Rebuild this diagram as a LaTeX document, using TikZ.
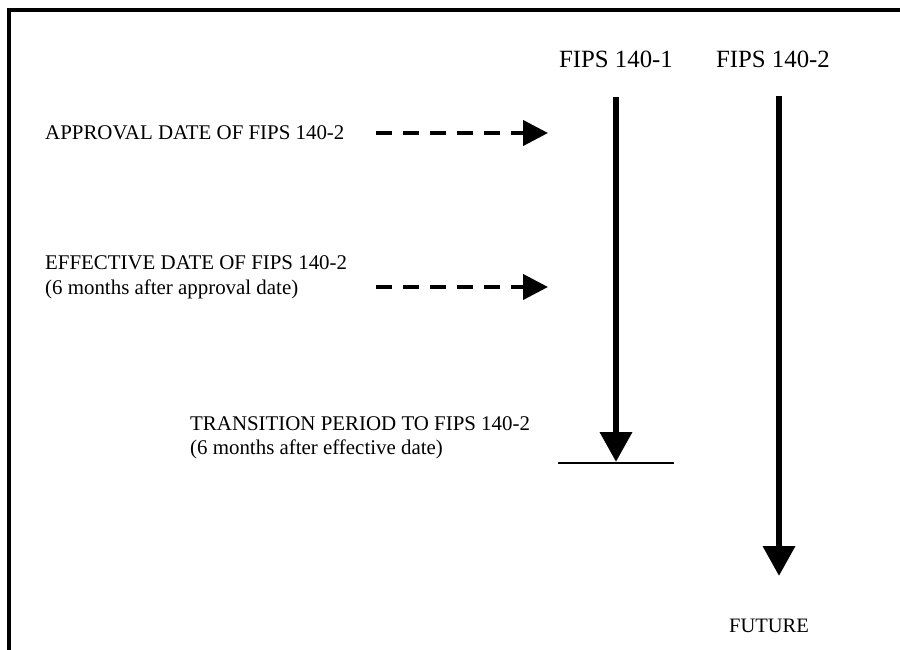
\documentclass[tikz,border=0pt]{standalone}
\usepackage{fontspec}
\setmainfont{Liberation Serif}
\usetikzlibrary{arrows.meta}
\tikzset{
  lbl/.style={inner sep=0pt, anchor=base west, font=\fontsize{20.9}{24}\selectfont},
  hdr/.style={inner sep=0pt, anchor=base, font=\fontsize{24.8}{30}\selectfont},
  futlbl/.style={inner sep=0pt, anchor=base, font=\fontsize{20.5}{24}\selectfont},
  bigarrow/.style={line width=6.7pt, -{Triangle[width=31pt,length=30pt]}},
  dasharrow/.style={line width=4.2pt, dash pattern=on 16pt off 11pt, -{Triangle[width=25pt,length=25pt]}},
  border/.style={line width=4pt, line join=miter},
}
\begin{document}
\begin{tikzpicture}[x=1pt,y=-1pt]
\useasboundingbox (0,0) rectangle (900,650);
% frame
\coordinate (tl) at (9,10);
\coordinate (tr) at (900,10);
\coordinate (bl) at (9,650);
\draw[border] (tr) -- (tl) -- (bl);
% headers
\node[hdr] (h1) at (616,68) {FIPS 140-1};
\node[hdr] (h2) at (773,68) {FIPS 140-2};
% labels
\node[lbl] (ap) at (45,140) {APPROVAL DATE OF FIPS 140-2};
\node[lbl] (ef1) at (45,269.5) {EFFECTIVE DATE OF FIPS 140-2};
\node[lbl] (ef2) at (45,294) {(6 months after approval date)};
\node[lbl] (tr1) at (190,430.5) {TRANSITION PERIOD TO FIPS 140-2};
\node[lbl] (tr2) at (190,454) {(6 months after effective date)};
\node[futlbl] (fut) at (769,632) {FUTURE};
% dashed arrows
\coordinate (d1s) at (376,133);
\coordinate (d1e) at (548,133);
\coordinate (d2s) at (376,287);
\coordinate (d2e) at (548,287);
\draw[dasharrow] (d1s) -- (d1e);
\draw[dasharrow] (d2s) -- (d2e);
% timelines
\coordinate (a1s) at (616,97);
\coordinate (a1e) at (616,462);
\coordinate (a2s) at (779,96);
\coordinate (a2e) at (779,576);
\draw[bigarrow] (a1s) -- (a1e);
\draw[bigarrow] (a2s) -- (a2e);
% end bar
\coordinate (bar1) at (558,462.5);
\coordinate (bar2) at (674,462.5);
\draw[line width=2pt] (bar1) -- (bar2);
\end{tikzpicture}
\end{document}
